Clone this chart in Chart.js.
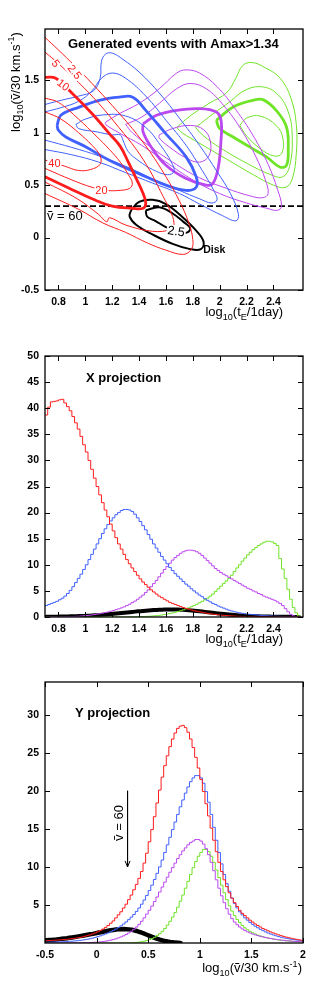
<!DOCTYPE html>
<html>
<head>
<meta charset="utf-8">
<script src="https://cdn.jsdelivr.net/npm/chart.js@4.4.1/dist/chart.umd.min.js"></script>
<style>
  html, body { margin: 0; padding: 0; background: #fff; }
  body { width: 327px; height: 981px; position: relative; overflow: hidden; }
  canvas { position: absolute; left: 0; }
</style>
</head>
<body>
<canvas id="topChart" width="327" height="330" style="top:0px"></canvas>
<canvas id="midChart" width="327" height="320" style="top:330px"></canvas>
<canvas id="botChart" width="327" height="331" style="top:650px"></canvas>
<script>
// ---- tick labels ----
const topXTicks = [0.8, 1, 1.2, 1.4, 1.6, 1.8, 2, 2.2, 2.4];
const topYTicks = [-0.5, 0, 0.5, 1, 1.5];
const midYTicks = [0, 5, 10, 15, 20, 25, 30, 35, 40, 45, 50];
const botXTicks = [-0.5, 0, 0.5, 1, 1.5, 2];
const botYTicks = [5, 10, 15, 20, 25, 30];

// ---- top panel: contours, [log10 tE, log10 v] ----
const red25 = [[0.70,1.91],[0.80,1.79],[0.92,1.64],[1.05,1.47],[1.20,1.26],[1.35,1.04],[1.48,0.82],[1.60,0.58],[1.70,0.35],[1.77,0.14],[1.80,-0.02],[1.79,-0.11],[1.73,-0.16],[1.60,-0.12],[1.46,-0.05],[1.30,0.05],[1.13,0.14],[0.95,0.27],[0.70,0.42]];
const red5 = [[0.70,1.77],[0.80,1.66],[0.95,1.48],[1.10,1.28],[1.25,1.05],[1.38,0.84],[1.48,0.64],[1.56,0.44],[1.63,0.26],[1.66,0.14],[1.64,0.08],[1.50,0.06],[1.30,0.12],[1.18,0.19],[1.16,0.15],[1.10,0.22],[0.94,0.37],[0.70,0.53]];
const red10 = [[0.70,1.53],[0.78,1.52],[0.90,1.38],[1.06,1.17],[1.18,0.99],[1.26,0.87],[1.32,0.72],[1.38,0.56],[1.43,0.42],[1.45,0.33],[1.43,0.28],[1.35,0.28],[1.20,0.30],[1.05,0.37],[0.88,0.47],[0.70,0.58]];
const red20 = [[0.70,1.33],[0.80,1.29],[0.95,1.13],[1.08,0.97],[1.18,0.84],[1.26,0.72],[1.32,0.60],[1.35,0.52],[1.33,0.47],[1.25,0.45],[1.16,0.45],[1.05,0.48],[0.90,0.55],[0.70,0.66]];
const red40 = [[0.70,1.20],[0.82,1.13],[0.95,1.00],[1.05,0.88],[1.11,0.78],[1.11,0.70],[1.04,0.65],[0.95,0.64],[0.85,0.68],[0.70,0.74]];

const blueOuter = [[0.70,1.27],[0.82,1.31],[0.95,1.35],[1.06,1.40],[1.11,1.52],[1.12,1.68],[1.15,1.75],[1.20,1.76],[1.28,1.70],[1.40,1.58],[1.55,1.38],[1.70,1.14],[1.85,0.88],[1.98,0.63],[2.08,0.42],[2.14,0.22],[2.12,0.16],[2.02,0.21],[1.85,0.32],[1.70,0.42],[1.50,0.52],[1.30,0.62],[1.10,0.72],[0.90,0.79],[0.70,0.84]];
const blueMid = [[0.70,1.20],[0.82,1.24],[0.95,1.30],[1.05,1.40],[1.12,1.52],[1.20,1.57],[1.30,1.52],[1.45,1.35],[1.60,1.12],[1.75,0.88],[1.87,0.64],[1.96,0.44],[1.98,0.36],[1.94,0.33],[1.85,0.37],[1.70,0.45],[1.50,0.56],[1.30,0.68],[1.10,0.78],[0.90,0.86],[0.70,0.93]];
const blueThick = [[0.79,1.07],[0.818,1.167],[0.955,1.245],[1.104,1.31],[1.253,1.34],[1.353,1.34],[1.45,1.214],[1.60,0.99],[1.75,0.77],[1.825,0.58],[1.825,0.48],[1.75,0.45],[1.60,0.50],[1.40,0.61],[1.178,0.738],[1.005,0.865],[0.855,0.96],[0.80,1.024],[0.79,1.07]];
const blueInner = [[0.93,1.08],[1.00,1.13],[1.13,1.17],[1.30,1.16],[1.45,1.05],[1.56,0.88],[1.64,0.72],[1.66,0.63],[1.61,0.60],[1.50,0.65],[1.40,0.73],[1.32,0.82],[1.28,0.93],[1.26,0.98],[1.20,0.98],[1.08,1.01],[0.95,1.04],[0.93,1.08]];

const purpleOuter = [[1.15,1.10],[1.25,1.18],[1.40,1.28],[1.55,1.42],[1.68,1.57],[1.75,1.60],[1.85,1.57],[1.98,1.44],[2.12,1.22],[2.25,0.97],[2.36,0.70],[2.43,0.46],[2.46,0.30],[2.43,0.26],[2.35,0.28],[2.20,0.33],[2.00,0.42],[1.80,0.55],[1.60,0.72],[1.42,0.88],[1.25,1.00],[1.15,1.08],[1.15,1.10]];
const purpleMid = [[1.30,1.08],[1.42,1.15],[1.55,1.28],[1.68,1.42],[1.78,1.47],[1.90,1.42],[2.03,1.26],[2.16,1.03],[2.27,0.77],[2.34,0.55],[2.36,0.42],[2.32,0.38],[2.22,0.40],[2.05,0.47],[1.85,0.57],[1.65,0.72],[1.48,0.87],[1.35,1.00],[1.30,1.08]];
const purpleThick = [[1.43,1.087],[1.53,1.167],[1.68,1.214],[1.85,1.23],[1.975,1.198],[2.01,1.119],[2.01,0.93],[1.99,0.674],[1.95,0.516],[1.90,0.50],[1.75,0.564],[1.60,0.69],[1.49,0.865],[1.43,1.007],[1.43,1.087]];
const purpleInner = [[1.55,0.98],[1.65,1.04],[1.78,1.07],[1.88,1.03],[1.93,0.92],[1.92,0.78],[1.85,0.72],[1.75,0.76],[1.63,0.86],[1.55,0.95],[1.55,0.98]];

const greenOuter = [[1.68,1.05],[1.78,1.16],[1.92,1.28],[2.05,1.38],[2.12,1.52],[2.17,1.64],[2.24,1.67],[2.34,1.62],[2.45,1.52],[2.53,1.33],[2.57,1.08],[2.57,0.80],[2.54,0.56],[2.49,0.48],[2.40,0.50],[2.25,0.60],[2.05,0.75],[1.85,0.90],[1.72,1.00],[1.68,1.05]];
const greenMid = [[1.82,1.05],[1.95,1.18],[2.08,1.30],[2.18,1.40],[2.30,1.44],[2.42,1.38],[2.51,1.20],[2.54,0.95],[2.52,0.68],[2.47,0.58],[2.38,0.60],[2.20,0.71],[2.00,0.86],[1.88,0.97],[1.82,1.05]];
const greenThick = [[1.975,1.119],[2.10,1.245],[2.248,1.31],[2.322,1.316],[2.42,1.214],[2.497,1.055],[2.51,0.833],[2.497,0.69],[2.447,0.674],[2.348,0.77],[2.223,0.865],[2.10,0.96],[2.00,1.04],[1.975,1.119]];
const greenInner = [[2.15,1.07],[2.20,1.14],[2.30,1.16],[2.42,1.07],[2.47,0.95],[2.46,0.80],[2.40,0.78],[2.30,0.85],[2.20,0.97],[2.15,1.07]];

const diskOuter = [[1.34,0.26],[1.40,0.34],[1.50,0.36],[1.60,0.32],[1.72,0.20],[1.83,0.06],[1.88,-0.04],[1.86,-0.11],[1.78,-0.11],[1.65,-0.06],[1.50,0.03],[1.38,0.12],[1.33,0.20],[1.34,0.26]];
const diskInner = [[1.45,0.26],[1.55,0.29],[1.65,0.23],[1.73,0.15],[1.78,0.09],[1.76,0.05],[1.70,0.05],[1.60,0.10],[1.52,0.16],[1.46,0.20],[1.45,0.26]];

const v60 = 0.3;   // log10(60/30)

// ---- middle panel: X projection, bins of 0.02 from 0.70 ----
const xProjStart = 0.70, xProjWidth = 0.02;
const xProjRed = [38.7,40.2,41.2,41.3,41.4,41.6,41.7,41.0,40.3,39.5,38.4,37.2,36.0,34.6,33.0,31.6,30.0,28.3,26.6,25.0,23.4,21.9,20.5,19.2,17.8,16.5,15.2,14.0,13.0,12.0,11.0,10.2,9.4,8.7,8.0,7.3,6.7,6.2,5.7,5.2,4.8,4.4,4.0,3.7,3.4,3.1,2.8,2.6,2.4,2.2,2.0,1.8,1.65,1.5,1.35,1.2,1.1,1.0,0.9,0.8,0.7,0.62,0.55,0.48,0.42,0.37,0.32,0.28,0.24,0.2,0.17,0.14,0.12,0.1,0.08,0.07,0.06,0.05,0.04,0.03,0.03,0.02,0.02,0.01,0.01,0.01,0,0,0,0,0,0,0,0,0];
const xProjBlue = [2.2,2.4,2.6,2.8,3.0,3.3,3.6,4.0,4.5,5.1,5.8,6.6,7.4,8.2,9.1,10.0,11.0,12.0,13.0,14.0,15.0,16.0,16.9,17.7,18.4,19.0,19.6,20.0,20.4,20.6,20.6,20.5,20.2,19.7,19.0,18.3,17.5,16.7,15.8,14.9,14.0,13.2,12.4,11.6,10.9,10.2,9.5,8.9,8.3,7.8,7.3,6.8,6.3,5.9,5.4,5.0,4.6,4.2,3.9,3.5,3.2,2.9,2.6,2.4,2.1,1.9,1.7,1.5,1.3,1.15,1.0,0.9,0.8,0.7,0.62,0.55,0.5,0.45,0.4,0.35,0.31,0.27,0.24,0.21,0.18,0.16,0.14,0.12,0.1,0.08,0.06,0.05,0.04,0.03,0.02];
const xProjPurple = [0,0,0,0,0.01,0.02,0.03,0.04,0.05,0.07,0.09,0.12,0.15,0.19,0.23,0.28,0.33,0.4,0.47,0.55,0.64,0.74,0.85,0.97,1.1,1.25,1.4,1.57,1.75,1.95,2.2,2.45,2.75,3.05,3.4,3.8,4.2,4.7,5.2,5.8,6.4,7.0,7.7,8.4,9.1,9.7,10.3,10.9,11.4,11.8,12.2,12.5,12.7,12.8,12.8,12.7,12.5,12.2,11.8,11.3,10.8,10.3,9.8,9.3,8.9,8.5,8.2,7.9,7.6,7.3,7.0,6.7,6.4,6.1,5.8,5.5,5.3,5.0,4.8,4.5,4.3,4.0,3.8,3.6,3.4,3.2,2.9,2.6,2.2,1.6,1.0,0.5,0.2,0.05,0];
const xProjGreen = [0,0,0,0,0,0,0,0,0,0,0,0,0,0,0,0,0,0,0,0,0,0,0,0,0,0,0,0,0,0,0.01,0.02,0.03,0.04,0.05,0.07,0.09,0.11,0.14,0.17,0.21,0.26,0.32,0.39,0.47,0.56,0.66,0.78,0.91,1.05,1.2,1.37,1.55,1.75,1.97,2.2,2.45,2.72,3.0,3.3,3.6,4.0,4.4,4.9,5.4,5.9,6.4,6.9,7.4,8.0,8.7,9.4,10.0,10.7,11.3,11.9,12.4,12.9,13.3,13.7,14.0,14.3,14.5,14.5,14.4,14.1,13.7,11.2,9.2,7.4,5.3,3.4,1.8,0.8,0.2];
const xProjDisk = [0.05,0.05,0.06,0.06,0.07,0.08,0.09,0.1,0.11,0.12,0.13,0.15,0.17,0.19,0.21,0.23,0.26,0.29,0.32,0.36,0.4,0.44,0.48,0.53,0.58,0.63,0.68,0.73,0.78,0.83,0.88,0.93,0.98,1.03,1.08,1.12,1.17,1.21,1.25,1.29,1.32,1.35,1.38,1.4,1.42,1.43,1.44,1.44,1.43,1.42,1.4,1.37,1.34,1.3,1.26,1.21,1.16,1.1,1.04,0.98,0.92,0.86,0.8,0.74,0.68,0.62,0.57,0.52,0.47,0.42,0.38,0.34,0.3,0.27,0.24,0.21,0.19,0.17,0.15,0.13,0.11,0.1,0.09,0.08,0.07,0.06,0.05,0.04,0.04,0.03,0.03,0.02,0.02,0.01,0.01];

// ---- bottom panel: Y projection, bins of 0.025 from -0.5 ----
const yProjStart = -0.5, yProjWidth = 0.025;
const yProjRed = [0.30,0.32,0.34,0.36,0.38,0.40,0.43,0.46,0.49,0.53,0.57,0.62,0.67,0.73,0.80,0.88,0.97,1.07,1.19,1.32,1.47,1.64,1.83,2.05,2.3,2.6,2.9,3.3,3.7,4.1,4.6,5.1,5.7,6.3,7.0,7.7,8.5,9.4,10.5,11.8,13.3,14.9,16.6,18.4,20.1,21.8,23.3,24.6,25.8,26.8,27.6,28.2,28.5,28.6,28.3,27.7,26.8,25.7,24.4,23.0,21.5,19.9,18.3,16.7,15.1,13.5,12.0,10.6,9.4,8.3,7.4,6.6,5.9,5.3,4.8,4.3,3.9,3.6,3.3,3.0,2.75,2.5,2.3,2.1,1.9,1.75,1.6,1.45,1.32,1.2,1.08,0.97,0.87,0.78,0.7,0.62,0.55,0.48,0.42,0.36];
const yProjBlue = [0.1,0.11,0.12,0.13,0.14,0.15,0.16,0.18,0.2,0.22,0.24,0.27,0.3,0.34,0.38,0.43,0.49,0.56,0.64,0.73,0.83,0.94,1.06,1.19,1.33,1.48,1.65,1.83,2.03,2.25,2.5,2.77,3.07,3.4,3.75,4.15,4.6,5.1,5.65,6.25,6.9,7.6,8.35,9.15,10.0,10.9,11.9,12.9,13.9,14.9,15.9,16.9,17.9,18.8,19.7,20.5,21.2,21.7,22.0,22.0,21.7,21.0,19.9,18.5,16.9,15.2,13.5,11.9,10.4,9.0,7.8,6.8,5.9,5.2,4.6,4.1,3.7,3.3,3.0,2.7,2.45,2.2,2.0,1.8,1.62,1.46,1.31,1.18,1.06,0.95,0.85,0.76,0.68,0.61,0.55,0.49,0.44,0.39,0.35,0.31];
const yProjPurple = [0,0,0,0,0,0,0,0,0,0.01,0.01,0.01,0.02,0.02,0.03,0.04,0.05,0.06,0.08,0.1,0.12,0.15,0.19,0.24,0.3,0.37,0.45,0.55,0.67,0.8,0.95,1.12,1.32,1.55,1.8,2.1,2.45,2.85,3.3,3.8,4.3,4.85,5.45,6.05,6.7,7.35,8.0,8.65,9.3,9.9,10.5,11.1,11.6,12.1,12.5,12.9,13.2,13.4,13.6,13.6,13.4,13.0,12.4,11.6,10.6,9.5,8.3,7.2,6.2,5.3,4.5,3.8,3.2,2.75,2.4,2.1,1.85,1.65,1.47,1.32,1.19,1.07,0.97,0.88,0.8,0.72,0.65,0.59,0.53,0.48,0.43,0.39,0.35,0.31,0.28,0.25,0.22,0.2,0.18,0.16];
const yProjGreen = [0,0,0,0,0,0,0,0,0,0,0,0,0,0,0,0,0,0,0,0,0,0,0,0,0,0,0,0,0,0,0,0,0,0,0.05,0.08,0.12,0.17,0.24,0.33,0.44,0.58,0.75,0.96,1.22,1.53,1.9,2.35,2.85,3.4,4.0,4.7,5.5,6.3,7.2,8.1,9.0,9.9,10.7,11.4,11.9,12.3,12.3,12.0,11.4,10.6,9.6,8.6,7.6,6.6,5.7,4.9,4.2,3.6,3.1,2.7,2.3,2.0,1.75,1.53,1.34,1.18,1.04,0.92,0.82,0.73,0.65,0.58,0.52,0.46,0.41,0.37,0.33,0.29,0.26,0.23,0.2,0.18,0.16,0.14];
const yProjDisk = [0.35,0.38,0.41,0.44,0.47,0.51,0.55,0.59,0.63,0.68,0.73,0.78,0.84,0.9,0.96,1.02,1.08,1.14,1.2,1.27,1.34,1.41,1.48,1.55,1.61,1.67,1.72,1.77,1.8,1.82,1.83,1.82,1.79,1.74,1.67,1.58,1.47,1.35,1.22,1.08,0.94,0.8,0.67,0.55,0.44,0.34,0.26,0.19,0.13,0.09,0.05,0.03,0.01];

// v~ = 60 arrow in the Y projection
const arrowFrom = [0.3, 20], arrowTo = [0.3, 10];

const RED = 'rgb(255,28,28)', BLUE = 'rgb(64,96,255)', PURPLE = 'rgb(188,72,240)', GREEN = 'rgb(112,228,40)';
const FAMILY = '"Liberation Sans", Arial, Helvetica, sans-serif';
const TICKFONT = { family: '"Liberation Sans Narrow", "Liberation Sans", Arial, sans-serif', size: 10.5, weight: 'bold' };

const pts = arr => arr.map(p => ({ x: p[0], y: p[1] }));

function contour(arr, color, width) {
    return { data: pts(arr), borderColor: color, borderWidth: width, pointRadius: 0, tension: 0.4, fill: false, borderJoinStyle: 'round' };
}

// histogram -> points at bin left edges, plus closing edge
function hist(start, width, values, color, lw) {
    const data = values.map((v, i) => ({ x: start + i * width, y: v }));
    data.push({ x: start + values.length * width, y: values[values.length - 1] });
    return { data: data, borderColor: color, borderWidth: lw, pointRadius: 0, stepped: true, fill: false };
}

// the thick disk curve: so wide that its steps vanish, drawn through bin centres
function thickHist(start, width, values, lw) {
    const data = values.map((v, i) => ({ x: start + (i + 0.5) * width, y: v }));
    return { data: data, borderColor: '#000', borderWidth: lw, pointRadius: 0, tension: 0, fill: false, borderJoinStyle: 'round', borderCapStyle: 'round' };
}

// draws text made of normal / sub / sup parts
function richText(ctx, parts, x, y, size, align) {
    const w = parts.map(([t, k]) => { ctx.font = (k ? size * 0.7 : size) + 'px ' + FAMILY; return ctx.measureText(t).width; });
    const total = w.reduce((a, b) => a + b, 0);
    let cx = align === 'right' ? x - total : align === 'center' ? x - total / 2 : x;
    parts.forEach(([t, k], i) => {
        ctx.font = (k ? size * 0.7 : size) + 'px ' + FAMILY;
        const dy = k === 'sub' ? size * 0.3 : k === 'sup' ? -size * 0.42 : 0;
        ctx.fillText(t, cx, y + dy);
        cx += w[i];
    });
}

const tTitle = [['log', ''], ['10', 'sub'], ['(t', ''], ['E', 'sub'], ['/1day)', '']];
const vTitle = [['log', ''], ['10', 'sub'], ['(\u1E7D/30 km.s', ''], ['-1', 'sup'], [')', '']];

// frame with inward ticks on all sides, titles and labels
const notes = {
    id: 'notes',
    afterDraw(chart, args, o) {
        const ctx = chart.ctx, a = chart.chartArea, xs = chart.scales.x, ys = chart.scales.y;
        ctx.save();
        ctx.strokeStyle = '#000';
        ctx.lineWidth = 1.3;
        ctx.strokeRect(a.left, a.top, a.right - a.left, a.bottom - a.top);
        ctx.lineWidth = 1;
        ctx.beginPath();
        xs.ticks.forEach(t => {
            const p = Math.round(xs.getPixelForValue(t.value)) + 0.5;
            ctx.moveTo(p, a.bottom); ctx.lineTo(p, a.bottom - 5);
            ctx.moveTo(p, a.top); ctx.lineTo(p, a.top + 5);
        });
        ys.ticks.forEach(t => {
            const p = Math.round(ys.getPixelForValue(t.value)) + 0.5;
            ctx.moveTo(a.left, p); ctx.lineTo(a.left + 5, p);
            ctx.moveTo(a.right, p); ctx.lineTo(a.right - 5, p);
        });
        ctx.stroke();

        ctx.fillStyle = '#000';
        ctx.textBaseline = 'alphabetic';
        ctx.textAlign = 'left';
        if (o.title) {
            ctx.font = 'bold 13px ' + FAMILY;
            ctx.fillText(o.title[0], o.title[1], o.title[2]);
        }
        if (o.xTitle) richText(ctx, o.xTitle, a.right - 20 + o.xTitleDx, a.bottom + o.xTitleDy, 13, 'right');
        if (o.yTitle) {
            ctx.save();
            ctx.translate(19.5, 82);
            ctx.rotate(-Math.PI / 2);
            richText(ctx, o.yTitle, 0, 0, 13, 'center');
            ctx.restore();
        }
        (o.labels || []).forEach(l => {
            const px = xs.getPixelForValue(l.x), py = ys.getPixelForValue(l.y);
            ctx.save();
            ctx.translate(px, py);
            ctx.rotate((l.rot || 0) * Math.PI / 180);
            ctx.font = l.font;
            ctx.textAlign = 'center';
            ctx.textBaseline = 'middle';
            const w = ctx.measureText(l.text).width;
            if (l.bg) { ctx.fillStyle = '#fff'; ctx.fillRect(-w / 2 - 1, -6, w + 2, 12); }
            ctx.fillStyle = l.color;
            ctx.fillText(l.text, 0, 0.5);
            ctx.restore();
        });
        if (o.plain) {
            o.plain.forEach(p => {
                ctx.save();
                ctx.translate(p.x, p.y);
                ctx.rotate((p.rot || 0) * Math.PI / 180);
                ctx.font = '13px ' + FAMILY;
                ctx.textAlign = p.align || 'left';
                ctx.fillText(p.text, 0, 0);
                ctx.restore();
            });
        }
        if (o.arrowTip) {
            const px = xs.getPixelForValue(o.arrowTip[0]), py = ys.getPixelForValue(o.arrowTip[1]);
            ctx.beginPath();
            ctx.moveTo(px - 2.5, py - 6); ctx.lineTo(px, py); ctx.lineTo(px + 2.5, py - 6);
            ctx.stroke();
        }
        ctx.restore();
    }
};

function axis(min, max, ticks, size, horizontal) {
    return {
        type: 'linear', min: min, max: max,
        afterBuildTicks: s => { s.ticks = ticks.map(v => ({ value: v })); },
        afterFit: s => { if (horizontal) s.height = size; else s.width = size; },
        grid: { display: false, drawTicks: false },
        border: { display: false },
        ticks: { padding: 6, color: '#000', font: TICKFONT, autoSkip: false, maxRotation: 0, callback: v => String(v) }
    };
}

function makeChart(id, top, bottom, height, xs, ys, datasets, noteOpts) {
    return new Chart(document.getElementById(id), {
        type: 'line',
        data: { datasets: datasets },
        options: {
            responsive: false, animation: false, devicePixelRatio: 1,
            layout: { padding: { top: top, right: 24, left: 0, bottom: 0 } },
            scales: { x: axis(xs[0], xs[1], xs[2], height - bottom, true), y: axis(ys[0], ys[1], ys[2], 45, false) },
            plugins: { legend: { display: false }, tooltip: { enabled: false }, notes: noteOpts }
        },
        plugins: [notes]
    });
}

const redLabel = '11px ' + FAMILY;
makeChart('topChart', 29, 290, 330, [0.7, 2.62, topXTicks], [-0.5, 1.99, topYTicks], [
    contour(red25, RED, 1), contour(red5, RED, 1), contour(red10, RED, 2.8), contour(red20, RED, 1), contour(red40, RED, 1),
    contour(blueOuter, BLUE, 1), contour(blueMid, BLUE, 1), contour(blueThick, BLUE, 2.8), contour(blueInner, BLUE, 1),
    contour(purpleOuter, PURPLE, 1), contour(purpleMid, PURPLE, 1), contour(purpleThick, PURPLE, 2.8), contour(purpleInner, PURPLE, 1),
    contour(greenOuter, GREEN, 1), contour(greenMid, GREEN, 1), contour(greenThick, GREEN, 2.8), contour(greenInner, GREEN, 1),
    contour(diskOuter, '#000', 2), contour(diskInner, '#000', 2),
    { data: pts([[0.7, v60], [2.62, v60]]), borderColor: '#000', borderWidth: 1.6, borderDash: [6, 3], pointRadius: 0 }
], {
    title: ['Generated events with Amax>1.34', 68, 48],
    xTitle: tTitle, xTitleDx: 0, xTitleDy: 26,
    yTitle: vTitle,
    plain: [{ text: '\u1E7D = 60', x: 47, y: 220 }],
    labels: [
        { text: '2.5', x: 0.92, y: 1.58, rot: 52, color: RED, font: redLabel, bg: true },
        { text: '5', x: 0.78, y: 1.66, rot: 52, color: RED, font: redLabel, bg: true },
        { text: '10', x: 0.835, y: 1.455, rot: 38, color: RED, font: redLabel, bg: true },
        { text: '40', x: 0.77, y: 0.71, rot: 0, color: RED, font: redLabel, bg: true },
        { text: '20', x: 1.12, y: 0.45, rot: 0, color: RED, font: redLabel, bg: true },
        { text: '2.5', x: 1.676, y: 0.06, rot: 8, color: '#000', font: '12.5px ' + FAMILY, bg: true },
        { text: 'Disk', x: 1.96, y: -0.11, rot: 0, color: '#000', font: 'bold 10.5px ' + FAMILY, bg: false }
    ]
});

makeChart('midChart', 26, 287, 320, [0.7, 2.62, topXTicks], [0, 50, midYTicks], [
    hist(xProjStart, xProjWidth, xProjRed, RED, 1),
    hist(xProjStart, xProjWidth, xProjBlue, BLUE, 1),
    hist(xProjStart, xProjWidth, xProjPurple, PURPLE, 1),
    hist(xProjStart, xProjWidth, xProjGreen, GREEN, 1),
    thickHist(xProjStart, xProjWidth, xProjDisk, 4)
], {
    title: ['X projection', 86, 51.5],
    xTitle: tTitle, xTitleDx: 0, xTitleDy: 26
});

makeChart('botChart', 32, 293, 331, [-0.5, 2, botXTicks], [0, 34.3, botYTicks], [
    hist(yProjStart, yProjWidth, yProjRed, RED, 1),
    hist(yProjStart, yProjWidth, yProjBlue, BLUE, 1),
    hist(yProjStart, yProjWidth, yProjPurple, PURPLE, 1),
    hist(yProjStart, yProjWidth, yProjGreen, GREEN, 1),
    thickHist(yProjStart, yProjWidth, yProjDisk, 4.5),
    { data: pts([arrowFrom, arrowTo]), borderColor: '#000', borderWidth: 1, pointRadius: 0 }
], {
    title: ['Y projection', 75, 66.5],
    xTitle: vTitle, xTitleDx: 19, xTitleDy: 29,
    plain: [{ text: '\u1E7D = 60', x: 122.5, y: 173, rot: -90, align: 'center' }],
    arrowTip: arrowTo
});
</script>
</body>
</html>
